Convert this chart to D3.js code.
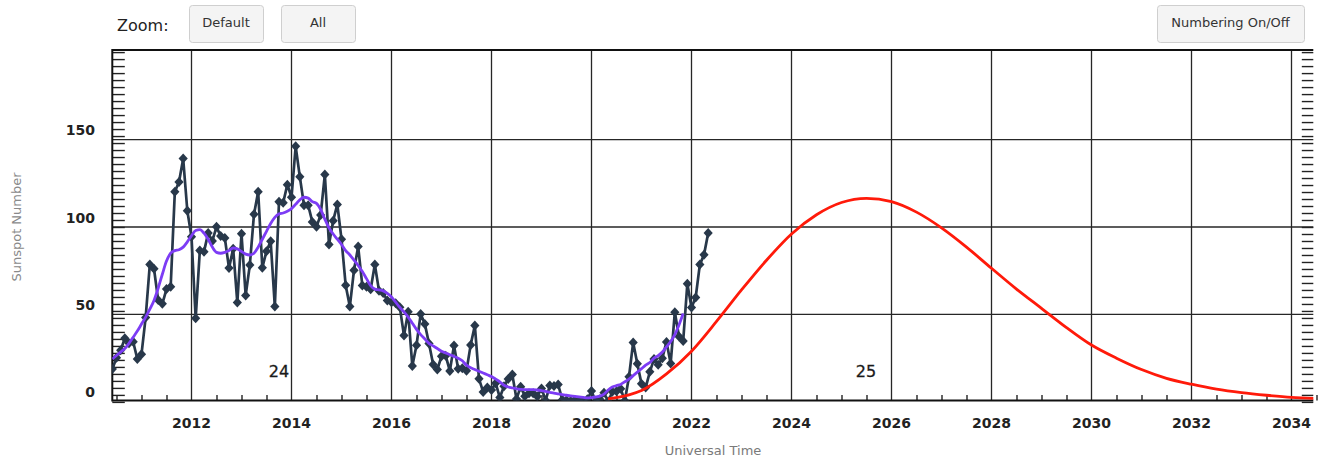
<!DOCTYPE html>
<html><head><meta charset="utf-8">
<script src="https://cdn.jsdelivr.net/npm/d3@7"></script>
<style>html,body{margin:0;padding:0;background:#fff;overflow:hidden}
text{font-family:"DejaVu Sans",sans-serif}</style>
</head><body><svg id="chart" width="1321" height="459"></svg>
<script>
// ---- data ----
const observedStart = [2010, 5]; // year, month of first observed value
const observedSSN = [
  13.9, 18.8, 25.2, 29.6, 36.4, 33.6, 34.4, 24.5,
  27.3, 48.3, 78.6, 76.1, 58.2, 56.1, 64.5, 65.8, 120.1, 125.7, 139.1, 109.3,
  94.4, 47.8, 86.6, 85.9, 96.5, 92.0, 100.1, 94.8, 93.7, 76.5, 87.6, 56.8,
  96.1, 60.9, 78.3, 107.3, 120.2, 76.7, 86.2, 91.8, 54.5, 114.4, 113.9, 124.2,
  117.0, 146.1, 128.7, 112.5, 112.5, 102.9, 100.2, 106.9, 130.0, 90.0, 103.6, 112.9,
  93.0, 66.7, 54.5, 75.3, 88.8, 66.5, 65.8, 64.4, 78.6, 63.6, 62.2, 58.0,
  57.0, 56.4, 54.1, 37.9, 51.5, 20.5, 32.4, 50.2, 44.6, 33.4, 21.4, 18.5,
  26.1, 26.4, 17.7, 32.3, 18.9, 19.2, 17.8, 32.6, 43.7, 13.2, 5.7, 8.2,
  6.8, 10.7, 2.5, 8.9, 13.1, 15.6, 1.6, 8.7, 3.3, 4.9, 4.9, 3.1,
  7.7, 0.8, 9.4, 9.1, 9.9, 1.2, 0.9, 0.5, 1.1, 0.4, 0.5, 1.5,
  6.2, 0.2, 1.5, 5.2, 0.2, 5.8, 6.1, 7.5, 0.6, 14.4, 34.0, 21.8,
  10.4, 8.2, 17.2, 24.5, 21.2, 25.0, 34.3, 22.0, 51.3, 37.4, 34.8, 67.5,
  54.0, 59.7, 78.5, 84.1, 96.5
];
const smoothedStart = [2010, 6];
const smoothedSSN = [
  24.5, 26.5, 28.5, 30.5, 33.5, 37, 40.5,
  44.5, 48.5, 53, 58, 65, 73, 80.5, 85, 86.5, 87, 88.5, 91.5,
  95, 98, 98.5, 96.5, 93, 88.5, 85.5, 85, 85.5, 86.5, 88, 87.5,
  86, 84.5, 84, 85, 88.5, 93, 97.5, 102, 105.5, 107.5, 108, 109,
  110.5, 113, 115.5, 117, 116.5, 114.5, 113.5, 110, 104.5, 99.5, 96, 93,
  90, 86.5, 84, 81, 78, 74.5, 70.5, 66.5, 64.5, 64, 63.5, 62,
  60, 57, 54, 51.5, 48.5, 45, 41.5, 38.5, 36, 33.5, 32, 30.5,
  29, 28, 27, 26, 25, 23.5, 21, 19.5, 18.5, 17.5, 16.5, 15.5,
  14.5, 13, 11.5, 9.5, 8.5, 8, 7.5, 7.2, 7, 7, 7, 6.8,
  6.5, 6, 5.5, 5, 4.6, 4.2, 3.8, 3.5, 3.2, 2.9, 2.6, 2.3,
  2.5, 2.8, 3.3, 4.5, 6.8, 8.5, 9.3, 10, 11.5, 13, 15, 17,
  19, 21, 22.5, 25, 26.5, 28.5, 31.5, 34.5, 38.5, 44, 50.5
];
const predictedYears = [2020.33, 2020.75, 2021.0, 2021.5, 2022.0, 2022.5, 2023.0, 2023.5, 2024.0, 2024.5,
  2025.0, 2025.5, 2026.0, 2026.5, 2027.0, 2027.5, 2028.0, 2028.5, 2029.0, 2029.5,
  2030.0, 2030.5, 2031.0, 2031.5, 2032.0, 2032.5, 2033.0, 2033.5, 2034.0, 2034.5];
const predictedSSN = [1.7, 4, 6.5, 16, 29, 46, 64, 81, 96, 107,
  114, 116.4, 114.5, 108.5, 99.5, 88.5, 76.4, 64.5, 53.5, 42.5,
  32.5, 25, 18.5, 13.5, 10.1, 7.3, 5.3, 3.8, 2.6, 2.0];
const yearTicks = [2012, 2014, 2016, 2018, 2020, 2022, 2024, 2026, 2028, 2030, 2032, 2034];
const ssnTicks = [0, 50, 100, 150];
const ssnGrid = [50, 100, 150];
const cycleNames = ["24", "25"];
const cycleYears = [2013.75, 2025.49];
const cycleSSN = [17.5, 17.5];
const buttonLabels = ["Default", "All", "Numbering On/Off"];

// ---- layout ----
const L = 112.3, R = 1313.3, T = 50, B = 400.5;
const svg = d3.select("#chart");
const x = d3.scaleLinear().domain([2010.416, 2034.436]).range([L, R]);
const y = d3.scaleLinear().domain([0.8, 201.2]).range([B, T]);
const mdate = (start, i) => start[0] + (start[1] - 1 + i) / 12;

const obs = observedSSN.map((v, i) => ({t: mdate(observedStart, i), v}));
const smo = smoothedSSN.map((v, i) => ({t: mdate(smoothedStart, i), v}));
const pred = predictedSSN.map((v, i) => ({t: predictedYears[i], v}));

svg.append("defs").append("clipPath").attr("id", "clip")
  .append("rect").attr("x", L).attr("y", T).attr("width", R - L).attr("height", B - T);

// grid
const grid = svg.append("g");
grid.selectAll("line.v").data(yearTicks).join("line")
  .attr("x1", d => x(d)).attr("x2", d => x(d)).attr("y1", T).attr("y2", B)
  .attr("stroke", "#262626").attr("stroke-width", 1.3);
grid.selectAll("line.h").data(ssnGrid).join("line")
  .attr("x1", L).attr("x2", R).attr("y1", d => y(d)).attr("y2", d => y(d))
  .attr("stroke", "#262626").attr("stroke-width", 1.3);

// minor ticks
const minorY = d3.range(0, 201, 4);
const minorX = d3.range(2010.5, 2034.6, 0.5).filter(d => yearTicks.indexOf(d) < 0);
const axL = svg.append("g").attr("transform", `translate(${L},0)`)
  .call(d3.axisRight(y).tickValues(minorY).tickSize(12.5).tickFormat(""));
const axR = svg.append("g").attr("transform", `translate(${R},0)`)
  .call(d3.axisLeft(y).tickValues(minorY).tickSize(11.5).tickFormat(""));
const axB = svg.append("g").attr("transform", `translate(0,${B})`)
  .call(d3.axisTop(x).tickValues(minorX).tickSize(5.5).tickFormat(""));
[axL, axR, axB].forEach(a => {
  a.select(".domain").remove();
  a.selectAll("line").attr("stroke", "#222").attr("stroke-width", 1.4);
});

// frame
svg.append("line").attr("x1", L).attr("x2", L).attr("y1", T - 1).attr("y2", B + 1).attr("stroke", "#111").attr("stroke-width", 2);
svg.append("line").attr("x1", L).attr("x2", R).attr("y1", T).attr("y2", T).attr("stroke", "#111").attr("stroke-width", 2);
svg.append("line").attr("x1", L).attr("x2", R).attr("y1", B).attr("y2", B).attr("stroke", "#111").attr("stroke-width", 2);

// tick labels
svg.append("g").selectAll("text").data(yearTicks).join("text")
  .attr("x", d => x(d)).attr("y", 428).attr("text-anchor", "middle")
  .attr("font-size", 14).attr("font-weight", "bold").attr("fill", "#222").text(d => d);
svg.append("g").selectAll("text").data(ssnTicks).join("text")
  .attr("x", 95).attr("y", d => y(d) - 9.5 + 5.1).attr("text-anchor", "end")
  .attr("font-size", 14).attr("font-weight", "bold").attr("fill", "#222").text(d => d);

// axis titles
svg.append("text").attr("x", 713).attr("y", 454.5).attr("text-anchor", "middle")
  .attr("font-size", 13).attr("fill", "#7a7a7a").text("Universal Time");
svg.append("text").attr("transform", "translate(21,227) rotate(-90)").attr("text-anchor", "middle")
  .attr("font-size", 13).attr("fill", "#8a8a8a").text("Sunspot Number");

// cycle labels
svg.append("g").selectAll("text").data(cycleNames).join("text")
  .attr("x", (d, i) => x(cycleYears[i])).attr("y", (d, i) => y(cycleSSN[i]) + 6)
  .attr("text-anchor", "middle").attr("font-size", 16).attr("fill", "#1a1a1a")
  .attr("stroke", "#1a1a1a").attr("stroke-width", 0.3).text(d => d);

// series
const plot = svg.append("g").attr("clip-path", "url(#clip)");
const line = d3.line().x(d => x(d.t)).y(d => y(d.v));
plot.append("path").datum(obs).attr("d", line).attr("fill", "none")
  .attr("stroke", "#28384a").attr("stroke-width", 2.7).attr("stroke-linejoin", "round");
plot.selectAll("path.mk").data(obs).join("path").attr("class", "mk")
  .attr("transform", d => `translate(${x(d.t)},${y(d.v)})`)
  .attr("d", "M0,-5L4.6,0L0,5L-4.6,0Z").attr("fill", "#28384a");
plot.append("path").datum(smo).attr("d", line.curve(d3.curveMonotoneX)).attr("fill", "none")
  .attr("stroke", "#7d3cf5").attr("stroke-width", 2.8).attr("stroke-linejoin", "round");
plot.append("path").datum(pred).attr("d", d3.line().x(d => x(d.t)).y(d => y(d.v)).curve(d3.curveMonotoneX))
  .attr("fill", "none").attr("stroke", "#ff1a0a").attr("stroke-width", 2.8);

// controls
svg.append("text").attr("x", 117).attr("y", 30.5).attr("font-size", 16).attr("fill", "#222").text("Zoom:");
const btnX = [189, 281, 1157], btnW = [74, 74, 147];
const btn = svg.append("g").selectAll("g").data(buttonLabels).join("g")
  .attr("transform", (d, i) => `translate(${btnX[i]},5)`);
btn.append("rect").attr("x", 0.5).attr("y", 0.5).attr("width", (d, i) => btnW[i]).attr("height", 37)
  .attr("rx", 3).attr("fill", "#f4f4f4").attr("stroke", "#cfcfcf");
btn.append("text").attr("x", (d, i) => btnW[i] / 2).attr("y", 21.5).attr("text-anchor", "middle")
  .attr("font-size", 13).attr("fill", "#333").text(d => d);
</script></body></html>
